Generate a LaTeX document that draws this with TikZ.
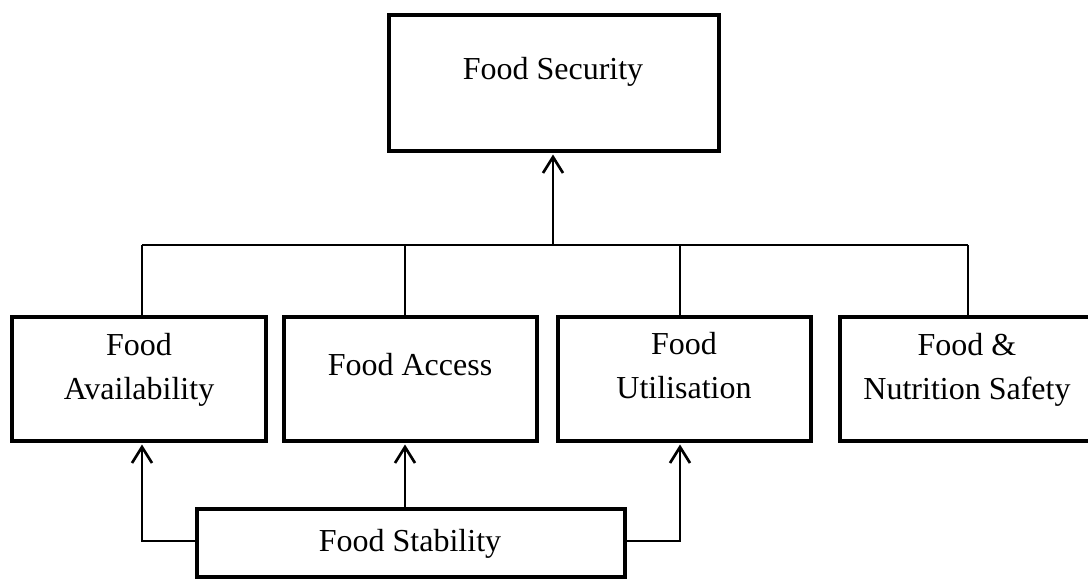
\documentclass[tikz,border=0pt]{standalone}
\usepackage{fontspec}
\setmainfont{Liberation Serif}
\usetikzlibrary{arrows.meta}
\begin{document}
\begin{tikzpicture}[x=0.75pt,y=-0.75pt,
  box/.style={draw,line width=3.3pt,inner sep=0pt,minimum height=93pt},
  lbl/.style={font=\fontsize{24}{33}\selectfont,align=center,inner sep=0pt},
  conn/.style={line width=2pt},
  arr/.style={conn,-{Straight Barb[length=12pt,width=15pt,line width=2pt]}}]
\useasboundingbox (0,0) rectangle (1088,578);
\clip (0,0) rectangle (1088,578);
% boxes
\node[box,minimum width=247.5pt,minimum height=102pt] (top) at (554,83) {};
\node[box,minimum width=190.5pt] (b1) at (139,379) {};
\node[box,minimum width=189.75pt] (b2) at (410.5,379) {};
\node[box,minimum width=189.75pt] (b3) at (684.5,379) {};
\node[box,minimum width=190.5pt] (b4) at (967,379) {};
\node[box,minimum width=321pt,minimum height=51pt] (fs) at (411,543) {};
% texts
\node[lbl,anchor=base] (t0) at (553,79) {Food Security};
\node[lbl] (t1) at (139,369.5) {Food\\Availability};
\node[lbl,anchor=base] (t2) at (410,375) {Food Access};
\node[lbl] (t3) at (684,366) {Food\\Utilisation};
\node[lbl] (t4) at (967,369.5) {Food \&\\Nutrition Safety};
\node[lbl,anchor=base] (t5) at (410,551) {Food Stability};
% bus
\coordinate (c1) at (142,245);
\coordinate (c2) at (405,245);
\coordinate (c3) at (680,245);
\coordinate (c4) at (968,245);
\coordinate (c0) at (553,245);
\draw[conn] (c1) -- (c4);
\draw[conn] (c1) -- (c1 |- b1.north);
\draw[conn] (c2) -- (c2 |- b2.north);
\draw[conn] (c3) -- (c3 |- b3.north);
\draw[conn] (c4) -- (c4 |- b4.north);
\draw[arr] (c0) -- (553,154.5);
% stability arrows
\coordinate (l1) at (142,541);
\coordinate (r1) at (680,541);
\draw[arr] (fs.west |- l1) -- (l1) -- (142,444.5);
\draw[arr] (405,507) -- (405,444.5);
\draw[arr] (fs.east |- r1) -- (r1) -- (680,444.5);
\end{tikzpicture}
\end{document}
